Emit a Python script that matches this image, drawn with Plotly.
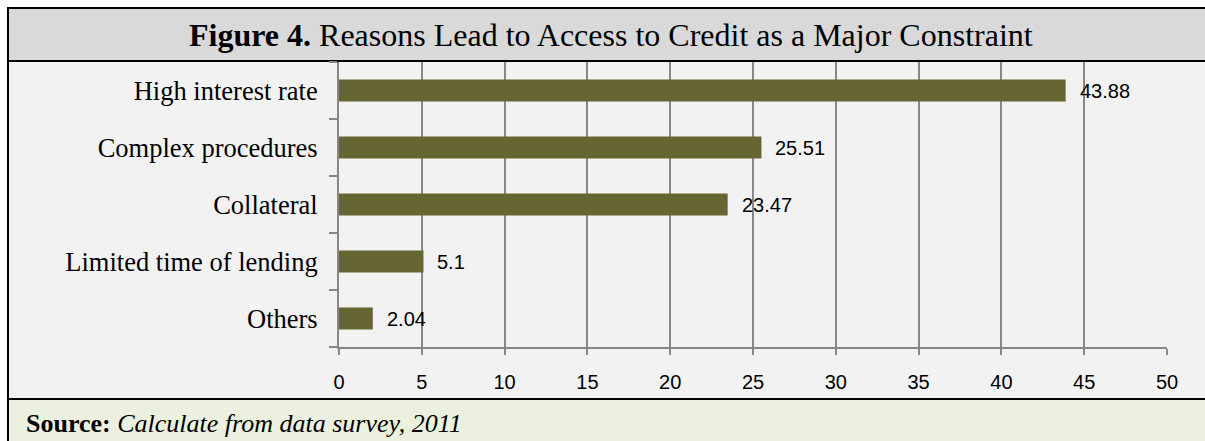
import plotly.graph_objects as go

categories = ["High interest rate", "Complex procedures", "Collateral",
              "Limited time of lending", "Others"]
values = [43.88, 25.51, 23.47, 5.1, 2.04]
value_labels = ["43.88", "25.51", "23.47", "5.1", "2.04"]
x_ticks = [0, 5, 10, 15, 20, 25, 30, 35, 40, 45, 50]

W, H = 1205, 441
L, R, T, B = 339, 38, 62, 94
PW, PH = W - L - R, H - T - B


def px(x):
    return (x - L) / PW


def py(y):
    return (H - B - y) / PH


SERIF = "Liberation Serif, Times New Roman, serif"
SANS = "Liberation Sans, Arial, sans-serif"
GRID = "#878787"

fig = go.Figure()
fig.add_trace(go.Bar(
    x=values, y=categories, orientation="h",
    marker=dict(color="#666633", line=dict(width=0)),
    width=0.39, hoverinfo="skip", showlegend=False,
))

for v, c, t in zip(values, categories, value_labels):
    fig.add_annotation(x=v, y=c, text=t, xref="x", yref="y",
                       xanchor="left", yanchor="middle", xshift=12,
                       showarrow=False, font=dict(family=SANS, size=20, color="black"))

shapes = [
    # outer background with border
    dict(type="rect", xref="paper", yref="paper", layer="below",
         x0=px(8), x1=px(1300), y0=py(8), y1=py(500),
         fillcolor="#f2f2f2", line=dict(color="black", width=2)),
    # title band
    dict(type="rect", xref="paper", yref="paper", layer="below",
         x0=px(8), x1=px(1300), y0=py(8), y1=py(61),
         fillcolor="#d9d9d9", line=dict(color="black", width=2)),
    # source band
    dict(type="rect", xref="paper", yref="paper", layer="below",
         x0=px(8), x1=px(1300), y0=py(399), y1=py(500),
         fillcolor="#ebf1de", line=dict(color="black", width=2)),
]

fig.add_annotation(xref="paper", yref="paper", x=px(611), y=py(35),
                   xanchor="center", yanchor="middle", showarrow=False,
                   text="<b>Figure 4.</b> Reasons Lead to Access to Credit as a Major Constraint",
                   font=dict(family=SERIF, size=32, color="black"))
fig.add_annotation(xref="paper", yref="paper", x=px(24), y=py(423),
                   xanchor="left", yanchor="middle", showarrow=False,
                   text="<b>Source:</b> <i>Calculate from data survey, 2011</i>",
                   font=dict(family=SERIF, size=26, color="black"))

fig.update_layout(
    width=W, height=H,
    margin=dict(l=L, r=R, t=T, b=B, pad=0),
    paper_bgcolor="white",
    plot_bgcolor="rgba(0,0,0,0)",
    shapes=shapes,
    bargap=0.6,
    xaxis=dict(range=[0, 50], tickvals=x_ticks, ticktext=[str(t) for t in x_ticks],
               showgrid=True, gridcolor=GRID, gridwidth=2,
               showline=True, linecolor=GRID, linewidth=2,
               ticks="outside", ticklen=6, tickwidth=2, tickcolor=GRID,
               ticklabelstandoff=10, zeroline=False, fixedrange=True,
               tickfont=dict(family=SANS, size=20, color="black")),
    yaxis=dict(categoryorder="array", categoryarray=categories[::-1],
               showgrid=False, showline=True, linecolor=GRID, linewidth=2,
               ticks="outside", ticklen=8, tickwidth=2, tickcolor=GRID,
               tickson="boundaries", ticklabelstandoff=14, zeroline=False,
               fixedrange=True,
               tickfont=dict(family=SERIF, size=26.5, color="black")),
)

fig.write_html("out.html")
